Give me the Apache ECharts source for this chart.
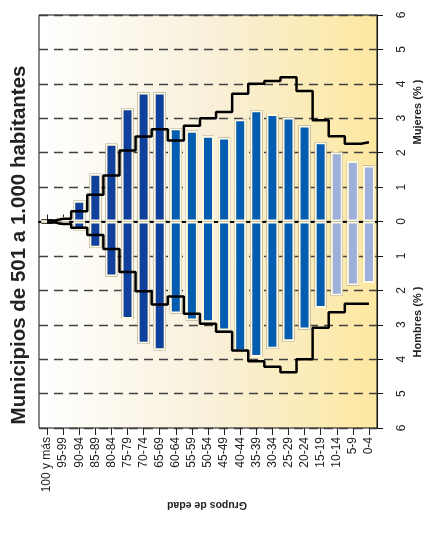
<!DOCTYPE html>
<html>
<head>
<meta charset="utf-8">
<script src="https://cdn.jsdelivr.net/npm/echarts@6/dist/echarts.min.js"></script>
<style>
html,body{margin:0;padding:0;background:#fff;}
#chart{width:427px;height:534px;}
</style>
</head>
<body>
<div id="chart"></div>
<script>
var categories = ['100 y más','95-99','90-94','85-89','80-84','75-79','70-74','65-69','60-64','55-59','50-54','45-49','40-44','35-39','30-34','25-29','20-24','15-19','10-14','5-9','0-4'];
// Municipality bars (%)
var mujeres = [0.02, 0.13, 0.60, 1.39, 2.26, 3.29, 3.75, 3.75, 2.71, 2.64, 2.49, 2.44, 2.97, 3.23, 3.12, 3.02, 2.79, 2.30, 2.01, 1.76, 1.63];
var hombres = [0.02, 0.07, 0.27, 0.76, 1.60, 2.83, 3.55, 3.74, 2.67, 2.88, 2.93, 3.17, 3.77, 3.94, 3.70, 3.48, 3.14, 2.51, 2.16, 1.86, 1.79];
// Reference step profile (%)
var mujeresRef = [0.03, 0.08, 0.30, 0.78, 1.34, 2.06, 2.47, 2.68, 2.35, 2.78, 3.00, 3.18, 3.71, 4.00, 4.08, 4.19, 3.79, 2.94, 2.48, 2.26, 2.30];
var hombresRef = [0.03, 0.07, 0.18, 0.39, 0.80, 1.47, 2.03, 2.41, 2.18, 2.68, 2.97, 3.20, 3.75, 4.06, 4.22, 4.38, 4.00, 3.09, 2.64, 2.39, 2.39];
// age group per category: 0 = 65+, 1 = 15-64, 2 = 0-14
var grupo = [0,0,0,0,0,0,0,0,1,1,1,1,1,1,1,1,1,1,2,2,2];
var grupoColor = ['#0f409c', '#045db0', '#9eafd9'];

var FONT = '"Liberation Sans", Arial, sans-serif';

function frontData(vals, sign) {
  return vals.map(function (v, i) {
    return { value: sign * v, itemStyle: { color: grupoColor[grupo[i]] } };
  });
}
function backData(vals, sign) {
  return vals.map(function (v) { return sign * v; });
}

var chart = echarts.init(document.getElementById('chart'), null, {renderer: 'canvas'});
var barW = 12;
var backStyle = { color: '#222', borderColor: '#222', borderWidth: 4 };
var frontBorder = { borderColor: '#fff9e0', borderWidth: 2 };

var option = {
  animation: false,
  grid: {
    left: 39, right: 50, top: 15, bottom: 106,
    show: true,
    borderColor: '#111', borderWidth: 1,
    backgroundColor: {
      type: 'linear', x: 0, y: 0, x2: 1, y2: 0,
      colorStops: [
        {offset: 0, color: '#ffffff'},
        {offset: 0.5, color: '#f8f0da'},
        {offset: 1, color: '#fde8a0'}
      ]
    }
  },
  xAxis: [
    {
      type: 'category', data: categories, position: 'bottom',
      axisLine: { show: false, onZero: false },
      axisTick: { show: false },
      axisLabel: { rotate: 90, margin: 9, fontSize: 12, color: '#222', fontFamily: FONT, interval: 0 },
      splitLine: { show: false }
    },
    {
      type: 'category', data: categories, position: 'bottom',
      axisLine: { show: true, onZero: true, lineStyle: { color: '#000', width: 2 } },
      axisTick: { show: true, inside: true, length: 7, alignWithLabel: true, interval: 0, lineStyle: { color: '#222', width: 1 } },
      axisLabel: { show: false }
    },
    {
      type: 'category', data: categories, position: 'bottom',
      axisLine: { show: false, onZero: true },
      axisTick: { show: true, inside: false, length: 7, alignWithLabel: true, interval: 0, lineStyle: { color: '#222', width: 1 } },
      axisLabel: { show: false }
    }
  ],
  yAxis: {
    type: 'value', position: 'right', min: -6, max: 6, interval: 1,
    axisLine: { show: true, lineStyle: { color: '#111', width: 1 } },
    axisTick: { show: true, length: 6, lineStyle: { color: '#111' } },
    axisLabel: {
      rotate: 90, margin: 19, fontSize: 12, color: '#222', fontFamily: FONT,
      formatter: function (v) { return String(Math.abs(v)); }
    },
    splitLine: {
      show: true,
      lineStyle: { color: '#404040', width: 1.4, type: [9, 6] }
    }
  },
  series: [
    { type: 'bar', name: 'mb', xAxisIndex: 0, data: backData(mujeres, 1), barWidth: barW, barGap: '-100%', itemStyle: backStyle, silent: true, z: 2 },
    { type: 'bar', name: 'hb', xAxisIndex: 0, data: backData(hombres, -1), barWidth: barW, barGap: '-100%', itemStyle: backStyle, silent: true, z: 2 },
    { type: 'bar', name: 'Mujeres', xAxisIndex: 0, data: frontData(mujeres, 1), barWidth: barW, barGap: '-100%', itemStyle: frontBorder, z: 3 },
    { type: 'bar', name: 'Hombres', xAxisIndex: 0, data: frontData(hombres, -1), barWidth: barW, barGap: '-100%', itemStyle: frontBorder, z: 3 },
    { type: 'line', name: 'MujeresRef', xAxisIndex: 0, data: mujeresRef, step: 'middle', symbol: 'none', lineStyle: { color: '#000', width: 2.5 }, z: 5 },
    { type: 'line', name: 'HombresRef', xAxisIndex: 0, data: hombresRef.map(function (v) { return -v; }), step: 'middle', symbol: 'none', lineStyle: { color: '#000', width: 2.5 }, z: 5 }
  ],
  graphic: [
    { type: 'text', x: 19, y: 245, rotation: Math.PI / 2, z: 10,
      style: { text: 'Municipios de 501 a 1.000 habitantes', font: 'bold 20.5px ' + FONT, fill: '#222', textAlign: 'center', textVerticalAlign: 'middle' } },
    { type: 'text', x: 418, y: 112, rotation: Math.PI / 2, z: 10,
      style: { text: 'Mujeres (% )', font: 'bold 11px ' + FONT, fill: '#222', textAlign: 'center', textVerticalAlign: 'middle' } },
    { type: 'text', x: 418, y: 322, rotation: Math.PI / 2, z: 10,
      style: { text: 'Hombres (% )', font: 'bold 11px ' + FONT, fill: '#222', textAlign: 'center', textVerticalAlign: 'middle' } },
    { type: 'text', x: 207, y: 505, rotation: Math.PI, z: 10,
      style: { text: 'Grupos de edad', font: 'bold 10.5px ' + FONT, fill: '#222', textAlign: 'center', textVerticalAlign: 'middle' } }
  ]
};
chart.setOption(option);
</script>
</body>
</html>
